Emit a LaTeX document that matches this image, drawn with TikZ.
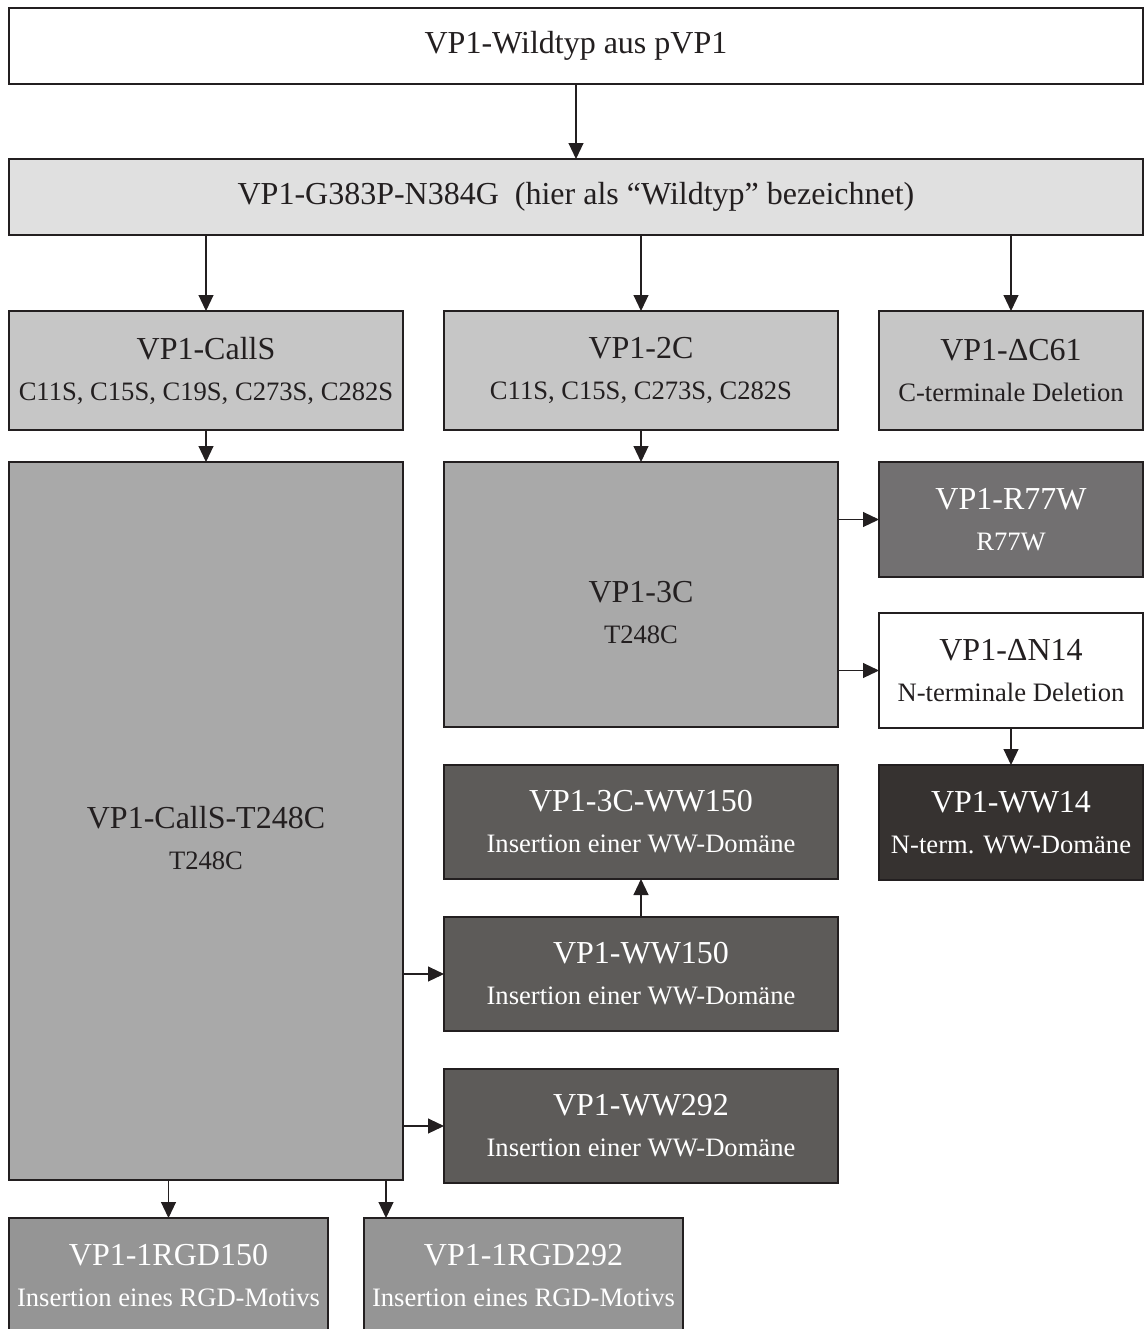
\documentclass[tikz,border=0pt]{standalone}
\usepackage{fontspec}
\setmainfont{Liberation Serif}
\usetikzlibrary{arrows.meta, positioning}
\usepackage{xcolor}
\definecolor{lin}{HTML}{231F20}
\definecolor{gA}{HTML}{E0E0E0}
\definecolor{gB}{HTML}{C6C6C6}
\definecolor{gC}{HTML}{A9A9A9}
\definecolor{gD}{HTML}{727071}
\definecolor{gE}{HTML}{5D5B59}
\definecolor{gF}{HTML}{363230}
\definecolor{gG}{HTML}{959595}
\newcommand{\boxtitle}{\fontsize{16}{20.5}\selectfont}
\newcommand{\boxsub}{\fontsize{13.3}{20.5}\selectfont}
\tikzset{
  box/.style  = {rectangle, draw=lin, line width=0.65pt, inner sep=2pt, outer sep=0pt,
                 align=center, font=\boxtitle, text=lin},
  wide/.style = {box, minimum width=567pt, minimum height=38pt},
  col/.style  = {box, minimum width=197pt, minimum height=59.5pt},
  nar/.style  = {box, minimum width=132pt, minimum height=57.5pt},
  rgd/.style  = {box, fill=gG, text=white, minimum width=159.5pt,
                 minimum height=57.5pt},
  arr/.style  = {-{Triangle[length=8pt, width=7.5pt]}, line width=0.55pt, color=lin},
}

\begin{document}
\begin{tikzpicture}[node distance=19pt and 20.5pt]
  \useasboundingbox (0,0) rectangle (572pt,-664.5pt);

  \node[wide, fill=white] (wt) at (288pt,-23pt) {VP1-Wildtyp aus pVP1};
  \node[wide, fill=gA, below=37.5pt of wt] (g383)
       {VP1-G383P-N384G\ \ (hier als “Wildtyp” bezeichnet)};
  \draw[arr] (wt) -- (g383);

  % first mutants
  \node[col, fill=gB, below right=38pt and 0pt of g383.south west] (calls)
       {VP1-CallS\\{\boxsub C11S, C15S, C19S, C273S, C282S}};
  \node[col, fill=gB, right=of calls] (c2) {VP1-2C\\{\boxsub C11S, C15S, C273S, C282S}};
  \node[nar, fill=gB, minimum height=59.5pt, right=of c2] (dc61)
       {VP1-ΔC61\\{\boxsub C-terminale Deletion}};

  \draw[arr] (g383.south -| calls) -- (calls);
  \draw[arr] (g383.south -| c2)    -- (c2);
  \draw[arr] (g383.south -| dc61)  -- (dc61);

  % T248C variants
  \node[col, fill=gC, minimum height=359pt, below=16pt of calls] (calls3)
       {\rule{0pt}{8pt}\\VP1-CallS-T248C\\{\boxsub T248C}};
  \node[col, fill=gC, minimum height=132.5pt, below=16pt of c2] (c3)
       {\rule{0pt}{8pt}\\VP1-3C\\{\boxsub T248C}};
  \draw[arr] (calls) -- (calls3);
  \draw[arr] (c2)    -- (c3);

  % right column
  \node[nar, fill=gD, text=white, below right=0pt and 20.5pt of c3.north east] (r77w)
       {VP1-R77W\\{\boxsub R77W}};
  \node[nar, fill=white, below=18pt of r77w] (dn14)
       {VP1-ΔN14\\{\boxsub N-terminale Deletion}};
  \node[nar, fill=gF, text=white, below=18.5pt of dn14] (ww14)
       {VP1-WW14\\{\boxsub N-term. WW-Domäne}};
  \draw[arr] (c3.east |- r77w) -- (r77w);
  \draw[arr] (c3.east |- dn14) -- (dn14);
  \draw[arr] (dn14) -- (ww14);

  % WW insertions
  \node[col, fill=gE, text=white, minimum height=57pt, below=of c3] (c3ww)
       {VP1-3C-WW150\\{\boxsub Insertion einer WW-Domäne}};
  \node[col, fill=gE, text=white, minimum height=57pt, below=of c3ww] (ww150)
       {VP1-WW150\\{\boxsub Insertion einer WW-Domäne}};
  \node[col, fill=gE, text=white, minimum height=57pt, below=of ww150] (ww292)
       {VP1-WW292\\{\boxsub Insertion einer WW-Domäne}};
  \draw[arr] (ww150) -- (c3ww);
  \draw[arr] (calls3.east |- ww150) -- (ww150);
  \draw[arr] (calls3.east |- ww292) -- (ww292);

  % RGD insertions
  \node[rgd, below right=19pt and 0pt of calls3.south west] (rgd150)
       {VP1-1RGD150\\{\boxsub Insertion eines RGD-Motivs}};
  \node[rgd, right=18pt of rgd150] (rgd292)
       {VP1-1RGD292\\{\boxsub Insertion eines RGD-Motivs}};
  \coordinate (rgdin) at ([xshift=11pt]rgd292.north west);
  \draw[arr] (calls3.south -| rgd150) -- (rgd150);
  \draw[arr] (calls3.south -| rgdin)  -- (rgdin);

\end{tikzpicture}
\end{document}
